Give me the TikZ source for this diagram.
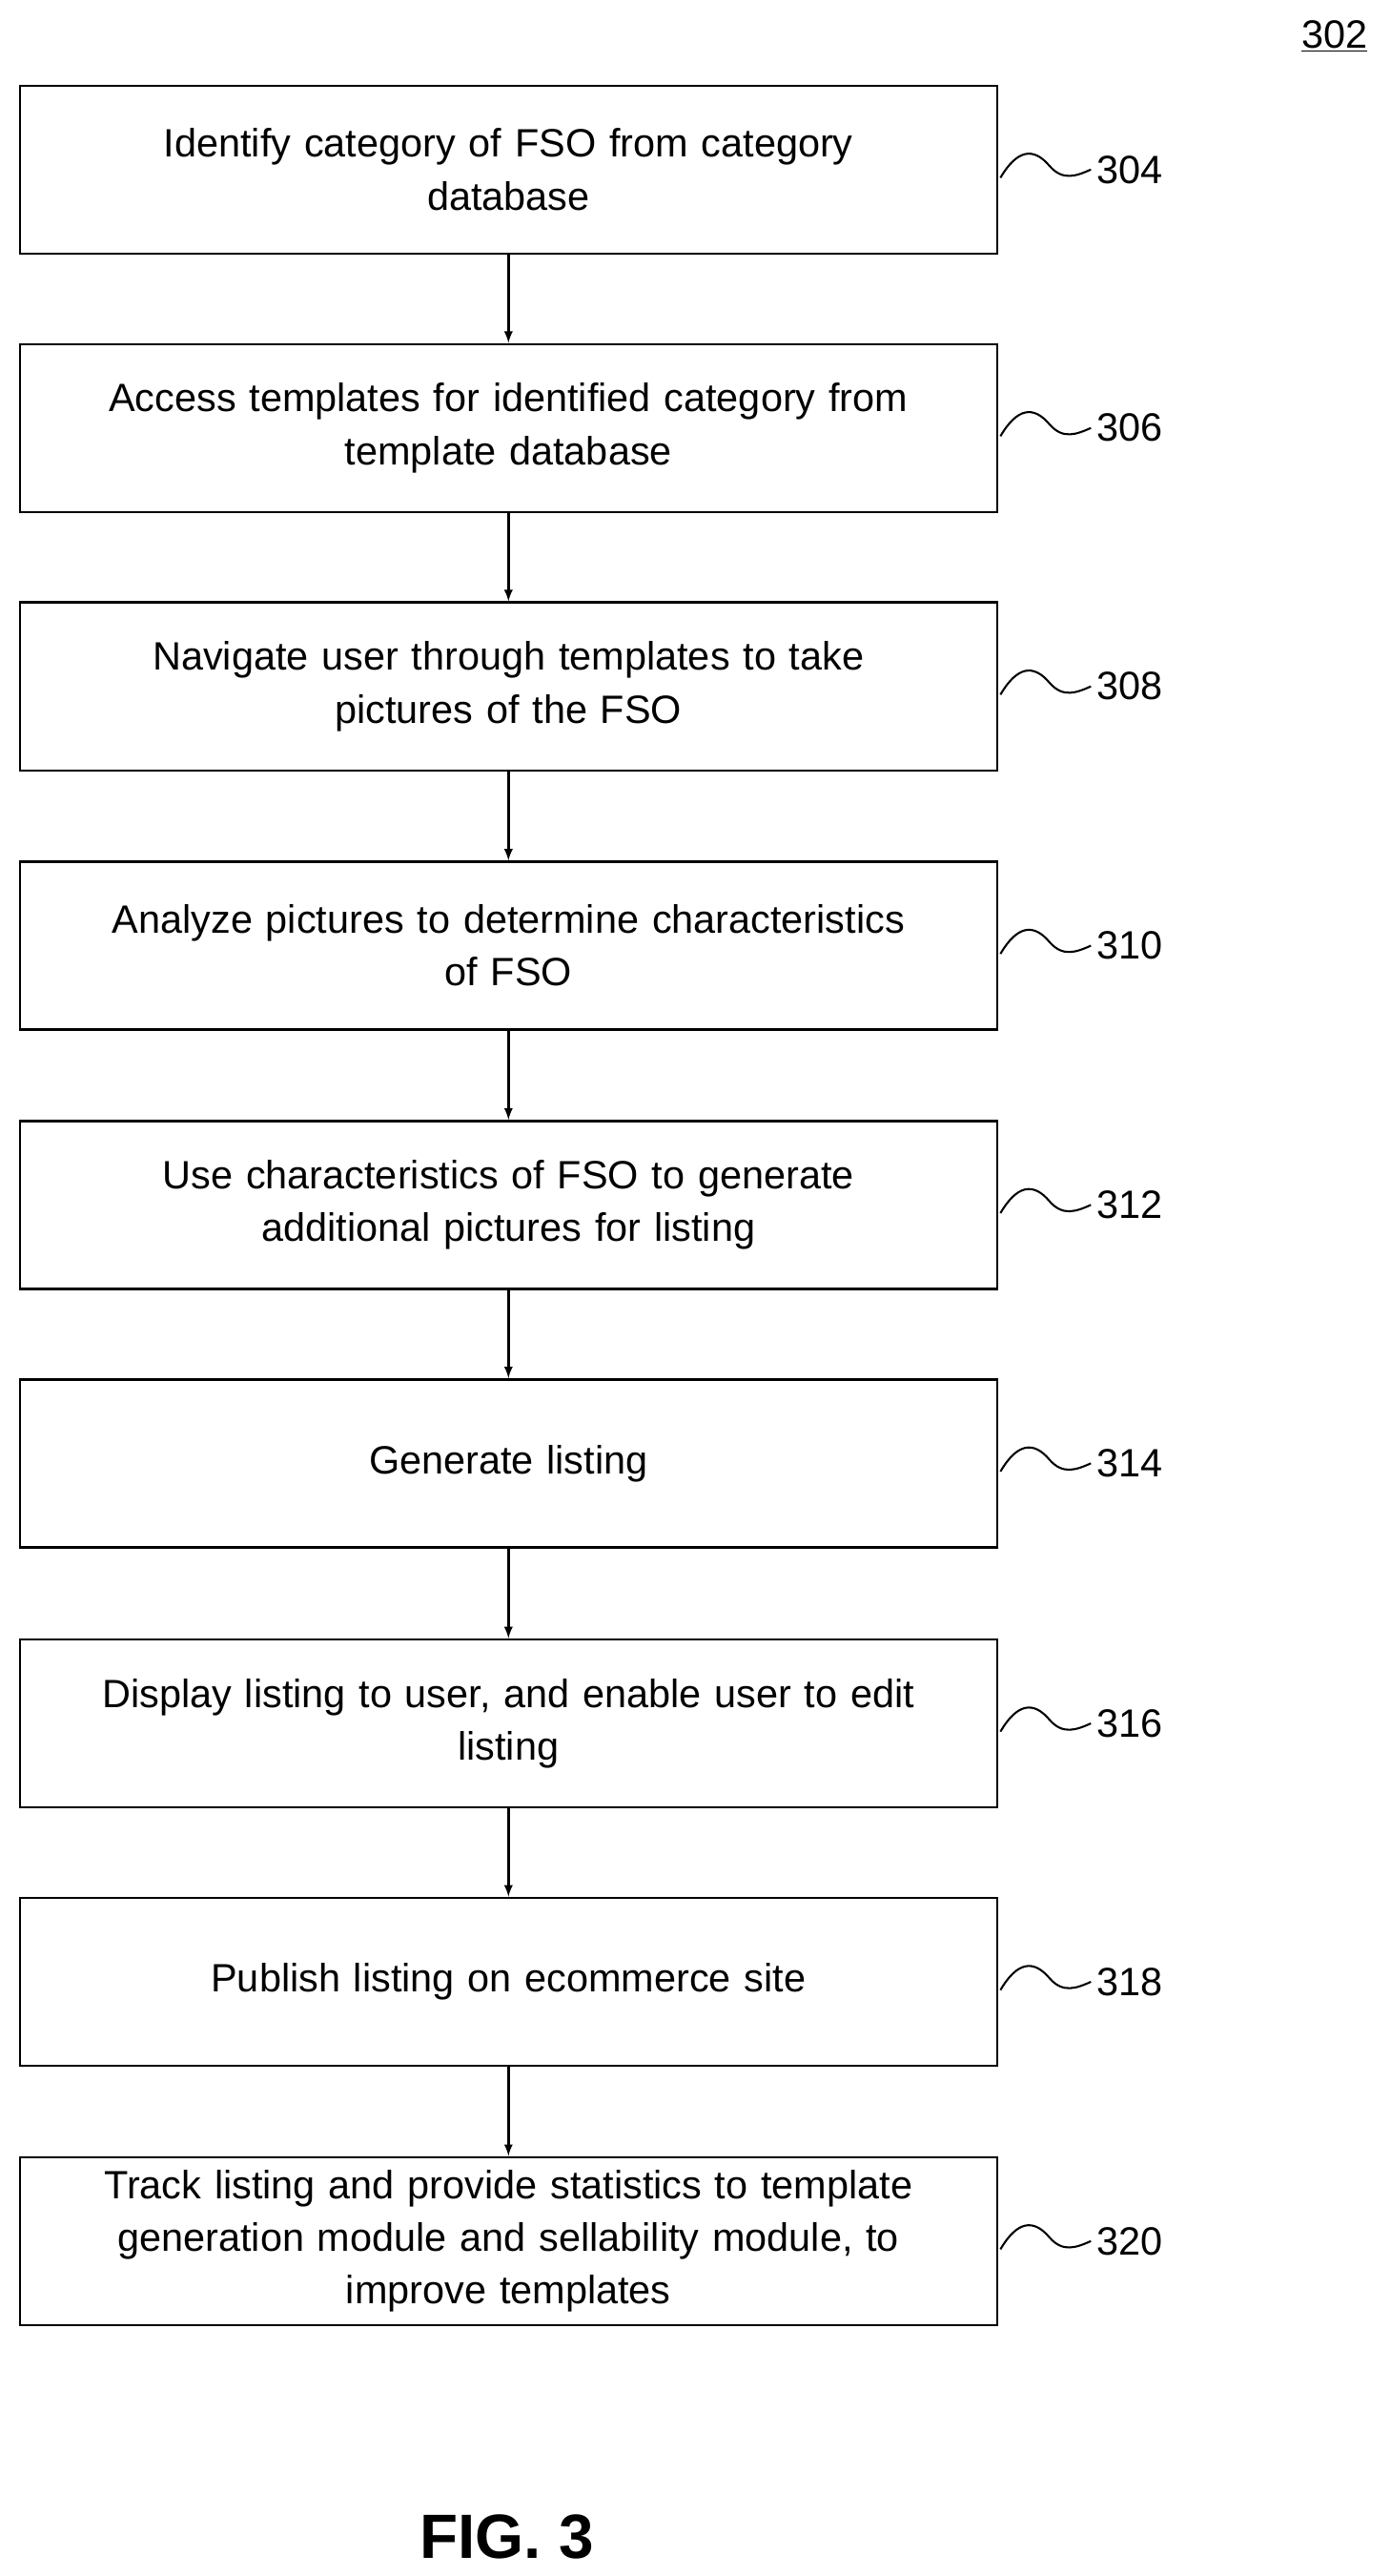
\documentclass[tikz,border=0pt]{standalone}
\usepackage{fontspec}
\setmainfont{Liberation Sans}
\begin{document}
\begin{tikzpicture}[x=1pt,y=-1pt,
  box/.style={draw,line width=1.4pt,minimum width=594pt,minimum height=102pt,align=center,text width=580pt,font=\fontsize{24}{32}\selectfont},
  lab/.style={font=\fontsize{24}{28}\selectfont,anchor=west},
  arr/.style={-latex,line width=1.4pt},
  sq/.style={line width=1.2pt}]
\useasboundingbox (0,0) rectangle (845,1565);
\def\items{304/103/{Identify category of FSO from category\\database},306/260/{Access templates for identified category from\\template database},308/417/{Navigate user through templates to take\\pictures of the FSO},310/574.5/{Analyze pictures to determine characteristics\\of FSO},312/732/{Use characteristics of FSO to generate\\additional pictures for listing},314/889/{Generate listing},316/1047/{Display listing to user, and enable user to edit\\listing},318/1204/{Publish listing on ecommerce site},320/1361.5/{Track listing and provide statistics to template\\generation module and sellability module, to\\improve templates}}
\foreach \n/\y/\t in \items {
  \node[box] (b\n) at (309,\y) {\t};
  \node[lab] (l\n) at (663,\y) {\n};
  \draw[sq] (608,\y+5) .. controls (618,\y-12) and (628,\y-14) .. (638,\y-2) .. controls (646,\y+7) and (654,\y+4) .. (l\n.west);
}
\foreach \a/\b in {304/306,306/308,308/310,310/312,312/314,314/316,316/318,318/320}
  \draw[arr] (b\a) -- (b\b);
\node[font=\fontsize{24}{28}\selectfont] (f302) at (811,22) {\underline{302}};
\node[font=\fontsize{38}{44}\selectfont\bfseries] (fig) at (308,1541) {FIG. 3};
\end{tikzpicture}
\end{document}
